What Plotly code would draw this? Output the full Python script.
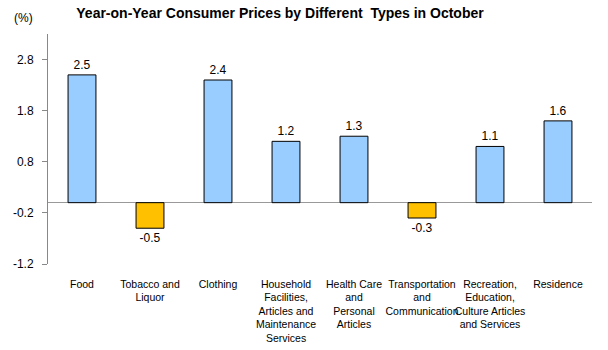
import plotly.graph_objects as go

categories = ["Food", "Tobacco and<br>Liquor", "Clothing",
              "Household<br>Facilities,<br>Articles and<br>Maintenance<br>Services",
              "Health Care<br>and<br>Personal<br>Articles",
              "Transportation<br>and<br>Communication",
              "Recreation,<br>Education,<br>Culture Articles<br>and Services",
              "Residence"]
values = [2.5, -0.5, 2.4, 1.2, 1.3, -0.3, 1.1, 1.6]
tick_vals = [-1.2, -0.2, 0.8, 1.8, 2.8]

colors = ["#99CCFF" if v >= 0 else "#FFC000" for v in values]

L, R, T, B = 48, 16, 34, 86
W, H = 608, 350
pw, ph = W - L - R, H - T - B

fig = go.Figure(go.Bar(
    x=categories, y=values,
    marker=dict(color=colors, line=dict(color="black", width=1)),
    width=0.41,
    text=[f"{v:.1f}" for v in values],
    textposition="outside",
    textfont=dict(family="Liberation Sans, Arial", size=12, color="black"),
    cliponaxis=False,
))

fig.update_layout(
    width=W, height=H,
    margin=dict(l=L, r=R, t=T, b=B, autoexpand=False),
    plot_bgcolor="white", paper_bgcolor="white",
    showlegend=False,
    font=dict(family="Liberation Sans, Arial", size=12, color="black"),
    title=dict(text="<b>Year-on-Year Consumer Prices by Different  Types in October</b>",
               x=280/W, xanchor="center", y=1-13/H, yanchor="middle",
               font=dict(size=14, color="black")),
    annotations=[dict(text="(%)", x=(23-L)/pw, y=(H-B-18)/ph, xref="paper", yref="paper",
                      xanchor="center", yanchor="middle", showarrow=False,
                      font=dict(size=12))],
    bargap=0.59,
)

fig.update_yaxes(
    range=[-1.2, 3.3], tickvals=tick_vals, ticktext=[f"{v:.1f}" for v in tick_vals],
    showgrid=False, showline=True, linecolor="#888888", linewidth=1,
    ticks="outside", ticklen=5, tickcolor="#888888",
    zeroline=True, zerolinecolor="#999999", zerolinewidth=1,
    tickfont=dict(size=12), ticklabelstandoff=6, automargin=False,
)
fig.update_xaxes(
    showgrid=False, showline=False, ticks="", tickangle=0,
    ticklabelstandoff=12, automargin=False,
    tickfont=dict(size=10.5),
)

fig.write_html("out.html")
